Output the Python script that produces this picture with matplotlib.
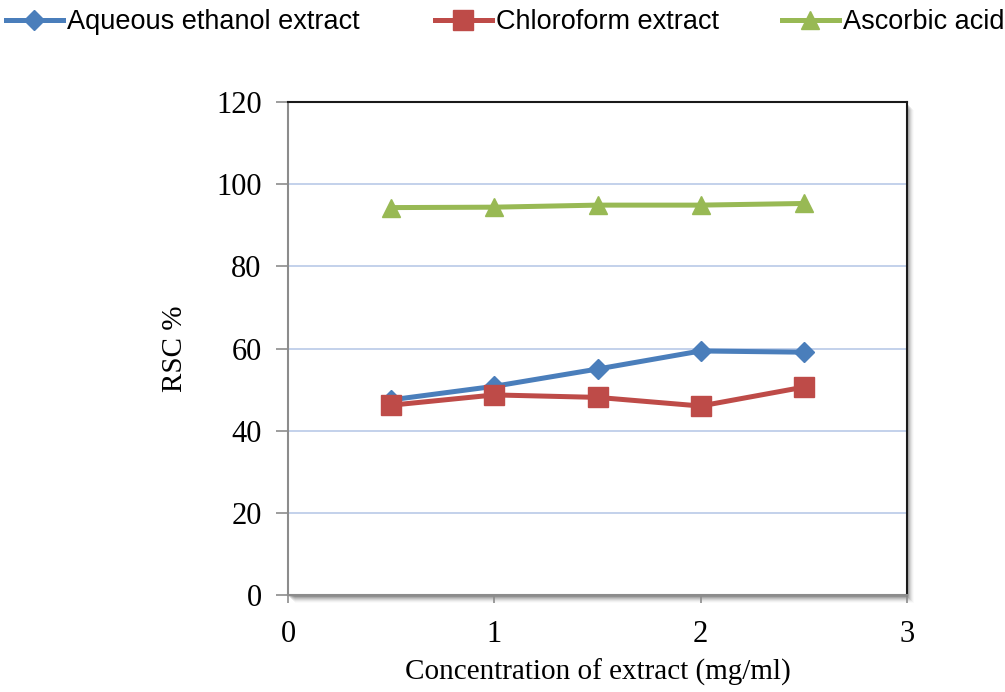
import matplotlib
matplotlib.use('Agg')
import matplotlib.pyplot as plt
from matplotlib.patches import Rectangle

# ── data ──
conc = [0.5, 1.0, 1.5, 2.0, 2.5]
aqueous = [47.5, 50.8, 55.0, 59.4, 59.1]
chloroform = [46.2, 48.7, 48.1, 46.0, 50.6]
ascorbic = [94.3, 94.4, 94.9, 94.9, 95.3]
series_names = ['Aqueous ethanol extract', 'Chloroform extract', 'Ascorbic acid']

serif = ['Liberation Serif', 'DejaVu Serif']
sans = ['Liberation Sans', 'DejaVu Sans']

W, H = 1005, 692
fig = plt.figure(figsize=(W / 100, H / 100), dpi=100)
L, B, R, T = 288, 595, 907, 102
ax = fig.add_axes([L / W, 1 - B / H, (R - L) / W, (B - T) / H])

# drop shadow of the plot area (Excel style)
for k, a in enumerate([0.14, 0.11, 0.09, 0.07, 0.05, 0.035, 0.02]):
    fig.patches.append(Rectangle(((L + 1 + k) / W, 1 - (B + 2 + k) / H), (R - L) / W, (B - T) / H,
                                 transform=fig.transFigure, facecolor='black', alpha=a,
                                 edgecolor='none', zorder=0))

ax.set_zorder(1)
h1, = ax.plot(conc, aqueous, color='#4A7EBB', lw=3.6, marker='D', ms=10, label=series_names[0])
h2, = ax.plot(conc, chloroform, color='#BE4B48', lw=3.6, marker='s', ms=14, label=series_names[1])
h3, = ax.plot(conc, ascorbic, color='#98B954', lw=3.6, marker='^', ms=13, label=series_names[2])

ax.set_xlim(0, 3)
ax.set_ylim(0, 120)
ax.set_xticks([0, 1, 2, 3])
ax.set_yticks(range(0, 121, 20))
ax.yaxis.grid(True, color='#B9C9E8', lw=1.2)
ax.set_axisbelow(True)

for side in ['top', 'right']:
    ax.spines[side].set_color('#1a1a1a')
    ax.spines[side].set_linewidth(1.5)
for side in ['left', 'bottom']:
    ax.spines[side].set_color('#8c8c8c')
    ax.spines[side].set_linewidth(1.5)
ax.tick_params(axis='y', colors='#8c8c8c', length=9, width=1.2, labelcolor='black', pad=10)
ax.tick_params(axis='x', colors='#8c8c8c', length=6, width=1.2, labelcolor='black', pad=12)

for lab in ax.get_xticklabels() + ax.get_yticklabels():
    lab.set_family(serif)
    lab.set_fontsize(22)

ax.set_xlabel('Concentration of extract (mg/ml)', family=serif, fontsize=21, labelpad=7)
ax.set_ylabel('RSC %', family=serif, fontsize=21, labelpad=20)

# legend entries placed like the Excel legend across the top
leg_x = [6, 435, 782]
for h, x in zip([h1, h2, h3], leg_x):
    lg = fig.legend(handles=[h], loc='center left', bbox_to_anchor=(x / W, 1 - 22 / H),
                    frameon=False, prop={'family': sans, 'size': 19.5},
                    handlelength=2.1, handletextpad=0.15, borderpad=0, borderaxespad=0)

fig.savefig('out.png', dpi=100)
